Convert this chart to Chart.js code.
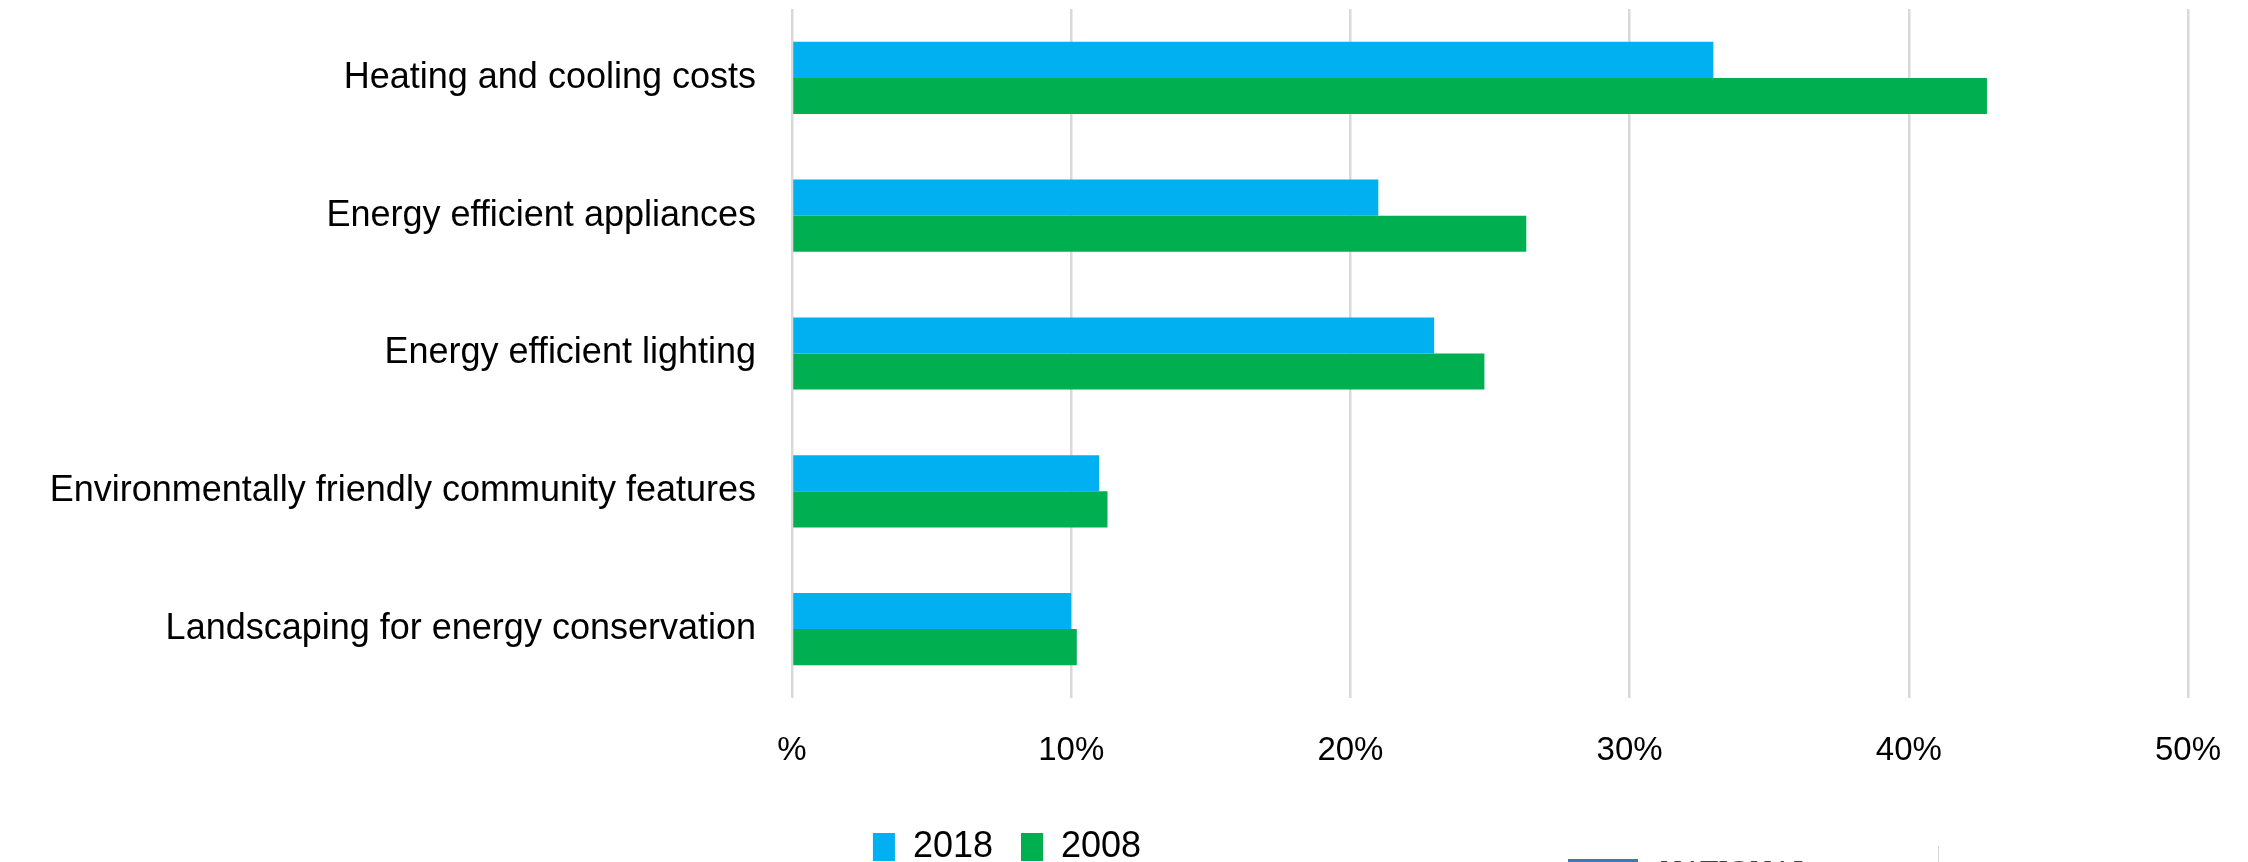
<!DOCTYPE html>
<html>
<head>
<meta charset="utf-8">
<script src="https://cdn.jsdelivr.net/npm/chart.js@4.4.1/dist/chart.umd.min.js"></script>
<style>
  html, body { margin: 0; padding: 0; background: #ffffff; overflow: hidden; }
  #wrap { position: relative; width: 2248px; height: 875px; }
</style>
</head>
<body>
<div id="wrap"><canvas id="c"></canvas></div>
<script>
const categories = [
  'Heating and cooling costs',
  'Energy efficient appliances',
  'Energy efficient lighting',
  'Environmentally friendly community features',
  'Landscaping for energy conservation'
];
const values2018 = [33, 21, 23, 11, 10];
const values2008 = [42.8, 26.3, 24.8, 11.3, 10.2];
const seriesNames = ['2018', '2008'];
const tickLabels = ['%', '10%', '20%', '30%', '40%', '50%'];

const FONT = '"Liberation Sans", Arial, sans-serif';

const legendShift = {
  id: 'legendShift',
  afterLayout(chart) {
    const lg = chart.legend;
    if (lg) { lg.left -= 87; lg.right -= 87; }
  }
};

const watermark = {
  id: 'watermark',
  afterDraw(chart) {
    const ctx = chart.ctx;
    ctx.save();
    ctx.globalAlpha = 0.85;
    ctx.fillStyle = '#1f5fa8';
    ctx.fillRect(1568, 859, 70, 4);
    ctx.fillStyle = '#222222';
    ctx.font = '30px "Liberation Serif", serif';
    ctx.textBaseline = 'top';
    ctx.fillText('NATIONAL', 1660, 857);
    ctx.globalAlpha = 0.4;
    ctx.fillStyle = '#999999';
    ctx.fillRect(1938, 846, 1, 16);
    ctx.restore();
  }
};

new Chart(document.getElementById('c'), {
  type: 'bar',
  data: {
    labels: categories,
    datasets: [
      { label: seriesNames[0], data: values2018, backgroundColor: '#00B0F0', borderWidth: 0 },
      { label: seriesNames[1], data: values2008, backgroundColor: '#00B050', borderWidth: 0 }
    ]
  },
  plugins: [legendShift, watermark],
  options: {
    indexAxis: 'y',
    responsive: true,
    maintainAspectRatio: false,
    animation: false,
    devicePixelRatio: 1,
    categoryPercentage: 0.524,
    barPercentage: 1.0,
    layout: { padding: { top: 9, right: 60, left: 0, bottom: 0 } },
    plugins: {
      tooltip: { enabled: false },
      legend: {
        position: 'bottom',
        labels: {
          boxWidth: 22,
          boxHeight: 28,
          padding: 28,
          color: '#000000',
          font: { family: FONT, size: 36 }
        }
      }
    },
    scales: {
      x: {
        min: 0,
        max: 50,
        grid: { color: '#d9d9d9', lineWidth: 2.5, drawTicks: false },
        border: { display: false },
        ticks: {
          stepSize: 10,
          padding: 33,
          color: '#000000',
          font: { family: FONT, size: 33 },
          callback: (v, i) => tickLabels[i]
        },
        afterFit: (s) => { s.height = 103; s.paddingLeft = 0; s.paddingRight = 0; }
      },
      y: {
        grid: { display: false, drawTicks: false },
        border: { display: false },
        ticks: {
          padding: 36,
          color: '#000000',
          font: { family: FONT, size: 36 }
        },
        afterFit: (s) => { s.width = 792; s.paddingTop = 0; s.paddingBottom = 0; }
      }
    }
  }
});
</script>
</body>
</html>
